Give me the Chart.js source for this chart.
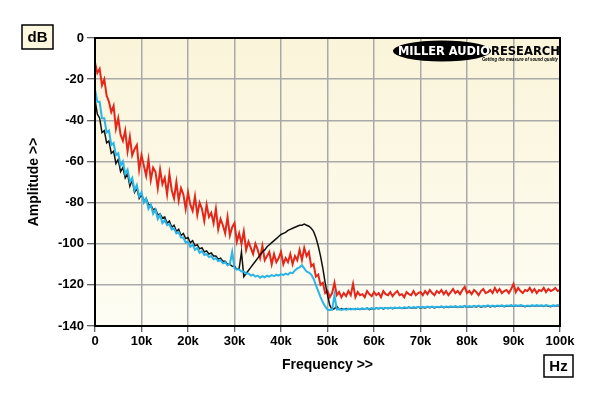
<!DOCTYPE html>
<html>
<head>
<meta charset="utf-8">
<script src="https://cdn.jsdelivr.net/npm/chart.js@4.4.1/dist/chart.umd.min.js"></script>
<style>
  html, body { margin: 0; padding: 0; background: #fff; }
  #wrap { width: 600px; height: 396px; }
</style>
</head>
<body>
<div id="wrap"><canvas id="chart" width="600" height="396"></canvas></div>
<script>
// frequency axis in kHz, 0.5 kHz spacing (0 .. 100k)
const freqK = Array.from({ length: 201 }, (_, i) => i * 0.5);

const xTicks = [0, 10, 20, 30, 40, 50, 60, 70, 80, 90, 100];
const yTicks = [0, -20, -40, -60, -80, -100, -120, -140];

// red trace (dB)
const redDb = [
  -12, -17, -15, -23, -20, -28, -31, -36, -33, -44,
  -39, -47, -50, -45, -55, -48, -57, -54, -52, -64,
  -57, -62, -67, -59, -69, -63, -65, -73, -64, -71,
  -68, -76, -66, -74, -78, -70, -79, -73, -76, -83,
  -75, -81, -84, -77, -86, -80, -83, -89, -81, -87,
  -85, -90, -83, -93, -88, -91, -95, -87, -96, -92,
  -90, -99, -95, -100, -94, -103, -99, -102, -105, -100,
  -103, -107, -101, -108, -106, -104, -110, -105, -109, -107,
  -104, -110, -107, -109, -105, -110, -106, -108, -103, -108,
  -102, -106, -104, -111, -110, -116, -115, -120, -119, -124,
  -123, -126, -124, -119, -125, -123.5, -126, -124, -125.5, -123,
  -125, -119.5, -126, -123.5, -125, -124.5, -126, -123, -124.5, -125.5,
  -123.5, -125, -124, -126, -123, -124.5, -125, -123.5, -125.5, -124,
  -123, -125, -124.5, -126, -123.5, -124.5, -125, -123, -125, -124,
  -123.5, -125, -123, -124.5, -122.5, -124, -125, -123, -124, -122.5,
  -124.5, -123, -125, -123.5, -122, -124, -123, -124.5, -122.5, -121,
  -124, -123, -124.5, -122.5, -123.5, -125, -123, -122, -124, -123.5,
  -122.5, -124, -121.5, -123.5, -122, -124, -123, -122.5, -124, -122,
  -119.5, -123.5, -121.5, -123, -124, -122.5, -123, -121.5, -123.5, -122,
  -124, -122.5, -123, -121.5, -123.5, -122, -123, -122.5, -121.5, -123,
  -122.5
];

// black trace (dB)
const blackDb = [
  -30, -37, -39, -46, -45, -51, -50, -56, -55, -61,
  -59, -65, -63, -68, -66, -72, -69, -75, -73, -78,
  -76, -79, -78, -81, -81, -83.5, -83, -86, -85.5, -87.5,
  -87, -90, -89, -92, -91, -94, -93, -96, -95, -97.5,
  -97, -99.5, -98.5, -101, -100.5, -102.5, -102, -104, -103.5, -105,
  -104.5, -106, -106, -107.5, -107, -108.5, -108.5, -110, -110, -111,
  -111, -112.5, -112, -104, -116, -114.5, -113, -111.5, -110, -108.5,
  -107, -105.5, -104, -103, -101.5, -100.5, -99.5, -98.5, -97.5, -96.5,
  -95.5, -95, -94.5, -93.5, -93, -92.5, -92, -91.5, -91, -91,
  -90.5, -91, -91.5, -92.5, -94, -97, -101, -106, -112, -119,
  -125, -130, -132, -131.5, -130.5, -132, -131.5, -132, -131.5, -132,
  -131.5, -132, -131.5, -131.8, -132, -131.5, -131.8, -131.3, -132, -131.5,
  -131.8, -131.3, -131.6, -131.2, -131.7, -131.3, -131.5, -131, -131.6, -131.2,
  -131.4, -131, -131.5, -131.1, -131.3, -130.9, -131.4, -131, -131.2, -130.8,
  -131.3, -130.9, -131.2, -130.8, -131.1, -130.7, -131.2, -130.8, -131, -130.6,
  -131.1, -130.7, -131, -130.6, -130.9, -130.5, -131, -130.6, -130.8, -130.4,
  -130.9, -130.5, -130.8, -130.4, -130.7, -130.3, -130.8, -130.4, -130.6, -130.2,
  -130.7, -130.3, -130.6, -130.2, -130.5, -130.1, -130.6, -130.2, -130.4, -130,
  -130.5, -130.1, -130.4, -130, -130.3, -130.6, -130.2, -130.5, -130.1, -130.4,
  -130, -130.4, -130.1, -130.5, -130, -130.3, -130.6, -130.1, -130.4, -130,
  -130.3
];

// cyan trace (dB)
const cyanDb = [
  -25, -31, -31, -39, -39, -46, -45, -52, -51, -57,
  -56, -62, -60, -66, -64, -70, -68, -74, -71.5, -77,
  -75, -80, -78, -83, -81, -85.5, -83.5, -88, -86, -90,
  -88.5, -91, -90.5, -93, -92.5, -95, -94.5, -97, -97, -99.5,
  -99, -101.5, -100.5, -103, -102, -104.5, -103.5, -105.5, -105, -106.5,
  -106, -107.5, -107, -108.5, -108, -109.5, -109, -110.5, -110, -104,
  -112, -112.5, -112.5, -113.5, -113.5, -114.5, -114.5, -115.5, -115, -116,
  -115.5, -116.5, -115.8, -116.3, -115.5, -116, -115.3, -115.8, -115, -115.5,
  -114.8, -115.3, -114.5, -115, -114, -114.3, -113, -112, -111.5, -110.5,
  -112, -113.5, -114, -115, -117, -120, -123, -126, -128.5, -130.5,
  -132, -132.3, -132, -125, -132, -131.7, -132.2, -131.8, -132.1, -131.6,
  -132, -131.6, -131.9, -131.5, -131.8, -131.4, -131.8, -131.4, -131.7, -131.3,
  -131.7, -131.3, -131.6, -131.2, -131.5, -131.1, -131.5, -131.1, -131.4, -131,
  -131.4, -131, -131.3, -130.9, -131.2, -130.8, -131.2, -130.8, -131.1, -130.7,
  -131.1, -130.7, -131, -130.6, -130.9, -130.5, -131, -130.6, -130.8, -130.4,
  -130.9, -130.5, -130.8, -130.4, -130.7, -130.3, -130.8, -130.4, -130.6, -130.2,
  -130.7, -130.3, -130.6, -130.2, -130.5, -130.1, -130.6, -130.2, -130.4, -130,
  -130.5, -130.1, -130.4, -130, -130.3, -129.9, -130.4, -130, -130.2, -129.8,
  -130.3, -129.9, -130.2, -129.8, -130.1, -130.4, -130, -130.3, -129.9, -130.2,
  -129.8, -130.2, -129.9, -130.3, -129.8, -130.1, -130.4, -129.9, -130.2, -129.8,
  -130.1
];

const toPoints = (vals) => freqK.map((f, i) => ({ x: f, y: vals[i] }));

const FONT = "'Liberation Sans', Arial, sans-serif";

// plot background, frame, unit boxes and logo
const decor = {
  id: 'decor',
  beforeDraw(chart) {
    const { ctx, chartArea: a } = chart;
    const g = ctx.createLinearGradient(0, a.top, 0, a.bottom);
    g.addColorStop(0, '#faf4d9');
    g.addColorStop(1, '#fefdf4');
    ctx.save();
    ctx.fillStyle = g;
    ctx.fillRect(a.left, a.top, a.right - a.left, a.bottom - a.top);
    ctx.restore();
  },
  afterDraw(chart) {
    const { ctx, chartArea: a } = chart;
    ctx.save();
    ctx.strokeStyle = '#000';
    ctx.lineWidth = 2;
    ctx.strokeRect(a.left, a.top, a.right - a.left, a.bottom - a.top);

    // unit boxes
    const box = (x, y, w, h, bg, txt) => {
      ctx.fillStyle = bg;
      ctx.fillRect(x, y, w, h);
      ctx.lineWidth = 1.5;
      ctx.strokeStyle = '#000';
      ctx.strokeRect(x, y, w, h);
      ctx.fillStyle = '#000';
      ctx.font = 'bold 15px ' + FONT;
      ctx.textAlign = 'center';
      ctx.textBaseline = 'middle';
      ctx.fillText(txt, x + w / 2, y + h / 2 + 1);
    };
    box(22, 25, 31, 24, '#fcf7df', 'dB');
    box(544, 355, 29, 22, '#ffffff', 'Hz');

    // logo
    ctx.fillStyle = '#000';
    ctx.beginPath();
    ctx.ellipse(442, 51, 49, 10.5, 0, 0, Math.PI * 2);
    ctx.fill();
    ctx.textBaseline = 'middle';
    ctx.textAlign = 'left';
    ctx.font = "bold 13px 'DejaVu Sans', sans-serif";
    ctx.fillStyle = '#fff';
    ctx.fillText('MILLER AUDIO', 398, 51.5, 92);
    ctx.fillStyle = '#000';
    ctx.font = "bold 12px 'DejaVu Sans', sans-serif";
    ctx.fillText('RESEARCH', 491, 51.5, 69);
    ctx.font = 'italic bold 5px ' + FONT;
    ctx.fillText('Getting the measure of sound quality', 482, 59.5, 76);
    ctx.restore();
  }
};

const tickFont = { family: FONT, size: 13, weight: 'bold' };

new Chart(document.getElementById('chart').getContext('2d'), {
  type: 'line',
  data: {
    datasets: [
      { label: 'cyan', data: toPoints(cyanDb), borderColor: '#2bb5e6', borderWidth: 2 },
      { label: 'black', data: toPoints(blackDb), borderColor: '#111111', borderWidth: 1.5 },
      { label: 'red', data: toPoints(redDb), borderColor: '#e4261b', borderWidth: 2 }
    ]
  },
  options: {
    responsive: false,
    animation: false,
    events: [],
    elements: { point: { radius: 0 }, line: { tension: 0 } },
    layout: { padding: { left: 0, right: 40, top: 38, bottom: 0 } },
    plugins: { legend: { display: false }, tooltip: { enabled: false } },
    scales: {
      x: {
        type: 'linear',
        min: 0,
        max: 100,
        afterBuildTicks: (s) => { s.ticks = xTicks.map(v => ({ value: v })); },
        afterFit: (s) => { s.height = 70; },
        ticks: {
          color: '#000',
          font: tickFont,
          padding: 2,
          maxRotation: 0,
          callback: (v) => (v === 0 ? '0' : v + 'k')
        },
        grid: { color: '#a9a9a9', lineWidth: 1.5, tickColor: '#333', tickLength: 6, tickWidth: 1 },
        border: { color: '#000', width: 2 },
        title: {
          display: true,
          text: 'Frequency >>',
          color: '#000',
          font: { family: FONT, size: 14, weight: 'bold' },
          padding: { top: 0, bottom: 22 }
        }
      },
      y: {
        min: -140,
        max: 0,
        afterBuildTicks: (s) => { s.ticks = yTicks.map(v => ({ value: v })); },
        afterFit: (s) => { s.width = 95; },
        ticks: { color: '#000', font: tickFont, padding: 3 },
        grid: { color: '#a9a9a9', lineWidth: 1.5, tickColor: '#333', tickLength: 8, tickWidth: 1 },
        border: { color: '#000', width: 2 },
        title: {
          display: true,
          text: 'Amplitude >>',
          color: '#000',
          font: { family: FONT, size: 14, weight: 'bold' },
          padding: { top: 26, bottom: 0 }
        }
      }
    }
  },
  plugins: [decor]
});
</script>
</body>
</html>
